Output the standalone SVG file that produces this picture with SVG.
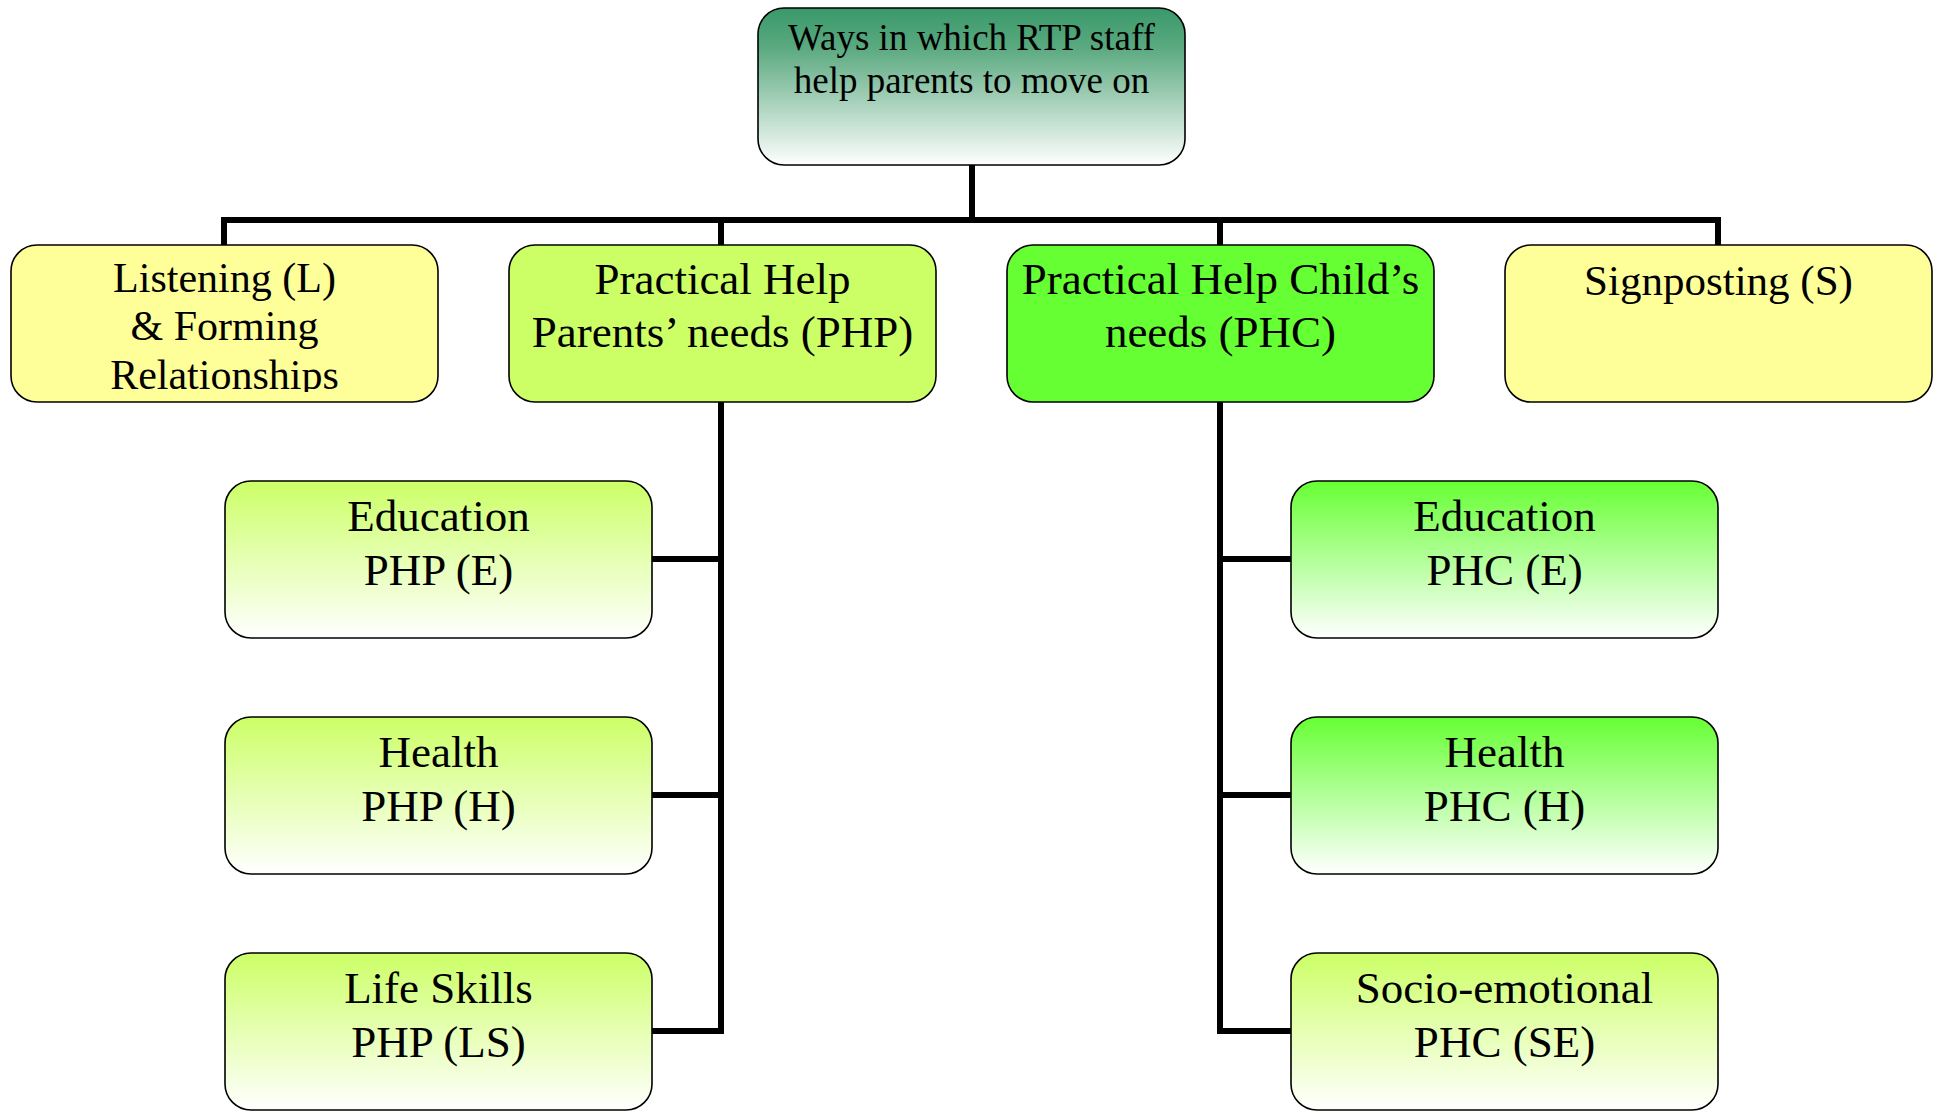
<svg xmlns="http://www.w3.org/2000/svg" width="1939" height="1111" viewBox="0 0 1939 1111">
  <style>
    .box { stroke: #000; stroke-width: 1.6; }
    .lbl { font-family: "Liberation Serif", "Times New Roman", serif; font-size: 45px; fill: #000; text-anchor: middle; }
    .conn { fill: none; stroke: #000; stroke-width: 6; stroke-linejoin: miter; stroke-linecap: butt; }
  </style>
  <defs>
    <linearGradient id="gRoot" x1="0" y1="0" x2="0" y2="1">
      <stop offset="0" stop-color="#39996a"/>
      <stop offset="0.25" stop-color="#5aa97f"/>
      <stop offset="1" stop-color="#ffffff"/>
    </linearGradient>
    <linearGradient id="gLime" x1="0" y1="0" x2="0" y2="1">
      <stop offset="0" stop-color="#ccff66"/>
      <stop offset="1" stop-color="#ffffff"/>
    </linearGradient>
    <linearGradient id="gGreen" x1="0" y1="0" x2="0" y2="1">
      <stop offset="0" stop-color="#66ff33"/>
      <stop offset="1" stop-color="#ffffff"/>
    </linearGradient>
    <clipPath id="clipListen">
      <rect x="12" y="246" width="425" height="146"/>
    </clipPath>
  </defs>

  <!-- connectors -->
  <g id="connectors">
    <path class="conn" d="M972,164 V220"/>
    <path class="conn" d="M224,245 V220 H1718 V245"/>
    <path class="conn" d="M721,220 V245"/>
    <path class="conn" d="M1220,220 V245"/>
    <path class="conn" d="M721,402 V1031 H652"/>
    <path class="conn" d="M721,559 H652"/>
    <path class="conn" d="M721,795 H652"/>
    <path class="conn" d="M1220,402 V1031 H1291"/>
    <path class="conn" d="M1220,559 H1291"/>
    <path class="conn" d="M1220,795 H1291"/>
  </g>

  <!-- root -->
  <g id="root">
    <rect class="box" x="758" y="8" width="427" height="157" rx="26" fill="url(#gRoot)"/>
    <text class="lbl" style="font-size:37px" x="971.5" y="50">Ways in which RTP staff</text>
    <text class="lbl" style="font-size:37px" x="971.5" y="93">help parents to move on</text>
  </g>

  <!-- first level -->
  <g id="listening">
    <rect class="box" x="11" y="245" width="427" height="157" rx="26" fill="#ffff99"/>
    <g clip-path="url(#clipListen)">
      <text class="lbl" style="font-size:42px" x="224.5" y="292">Listening (L)</text>
      <text class="lbl" style="font-size:42px" x="224.5" y="340">&amp; Forming</text>
      <text class="lbl" style="font-size:42px" x="224.5" y="389">Relationships</text>
    </g>
  </g>

  <g id="php">
    <rect class="box" x="509" y="245" width="427" height="157" rx="26" fill="#ccff66"/>
    <text class="lbl" x="722.5" y="294">Practical Help</text>
    <text class="lbl" x="722.5" y="347">Parents’ needs (PHP)</text>
  </g>

  <g id="phc">
    <rect class="box" x="1007" y="245" width="427" height="157" rx="26" fill="#66ff33"/>
    <text class="lbl" x="1220.5" y="294">Practical Help Child’s</text>
    <text class="lbl" x="1220.5" y="347">needs (PHC)</text>
  </g>

  <g id="signposting">
    <rect class="box" x="1505" y="245" width="427" height="157" rx="26" fill="#ffff99"/>
    <text class="lbl" style="font-size:43px" x="1718.5" y="295">Signposting (S)</text>
  </g>

  <!-- parents' needs branch -->
  <g id="php-education">
    <rect class="box" x="225" y="481" width="427" height="157" rx="26" fill="url(#gLime)"/>
    <text class="lbl" x="438.5" y="531">Education</text>
    <text class="lbl" x="438.5" y="585">PHP (E)</text>
  </g>

  <g id="php-health">
    <rect class="box" x="225" y="717" width="427" height="157" rx="26" fill="url(#gLime)"/>
    <text class="lbl" x="438.5" y="767">Health</text>
    <text class="lbl" x="438.5" y="821">PHP (H)</text>
  </g>

  <g id="php-lifeskills">
    <rect class="box" x="225" y="953" width="427" height="157" rx="26" fill="url(#gLime)"/>
    <text class="lbl" x="438.5" y="1003">Life Skills</text>
    <text class="lbl" x="438.5" y="1057">PHP (LS)</text>
  </g>

  <!-- child's needs branch -->
  <g id="phc-education">
    <rect class="box" x="1291" y="481" width="427" height="157" rx="26" fill="url(#gGreen)"/>
    <text class="lbl" x="1504.5" y="531">Education</text>
    <text class="lbl" x="1504.5" y="585">PHC (E)</text>
  </g>

  <g id="phc-health">
    <rect class="box" x="1291" y="717" width="427" height="157" rx="26" fill="url(#gGreen)"/>
    <text class="lbl" x="1504.5" y="767">Health</text>
    <text class="lbl" x="1504.5" y="821">PHC (H)</text>
  </g>

  <g id="phc-socioemotional">
    <rect class="box" x="1291" y="953" width="427" height="157" rx="26" fill="url(#gLime)"/>
    <text class="lbl" x="1504.5" y="1003">Socio-emotional</text>
    <text class="lbl" x="1504.5" y="1057">PHC (SE)</text>
  </g>
</svg>
